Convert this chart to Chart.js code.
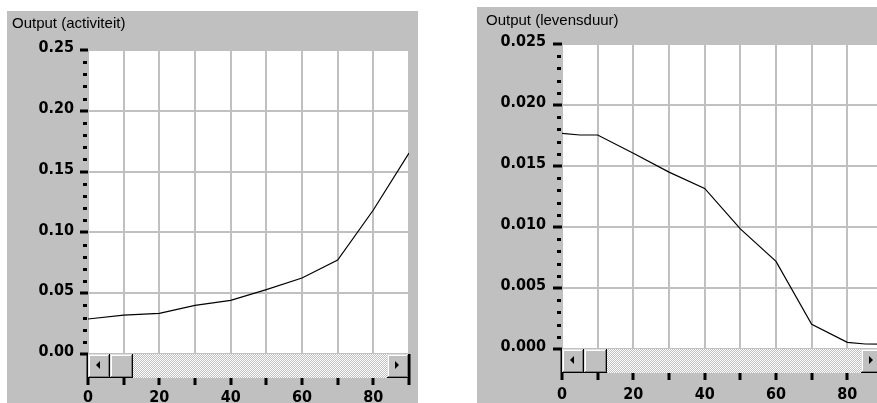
<!DOCTYPE html>
<html>
<head>
<meta charset="utf-8">
<script src="https://cdn.jsdelivr.net/npm/chart.js@4/dist/chart.umd.min.js"></script>
<style>
  html, body { margin: 0; padding: 0; background: #ffffff; overflow: hidden; width: 877px; height: 403px; }
  .panel { position: absolute; }
  #panelActivity { left: 7px; top: 11px; }
  #panelLife { left: 477px; top: 7px; }
</style>
</head>
<body>
<div class="panel" id="panelActivity"><canvas id="chartActivity" width="411" height="400"></canvas></div>
<div class="panel" id="panelLife"><canvas id="chartLife" width="420" height="400"></canvas></div>
<script>
// Output (activiteit)
const activityX = [0, 10, 20, 30, 40, 50, 60, 70, 80, 90];
const activityY = [0.0288, 0.0320, 0.0334, 0.0400, 0.0441, 0.0530, 0.0625, 0.0773, 0.1184, 0.1653];

// Output (levensduur)
const lifeX = [0, 5, 10, 20, 30, 40, 50, 60, 70, 80, 85, 90];
const lifeY = [0.01768, 0.01754, 0.01754, 0.01604, 0.01450, 0.01316, 0.00984, 0.00718, 0.00203, 0.00055, 0.00041, 0.00040];

// Axis ranges and tick steps
const xRange = [0, 90];
const xTickStep = 10;
const xLabelStep = 20;
const activityRange = [0, 0.25];
const activityStep = 0.05;
const lifeRange = [0, 0.025];
const lifeStep = 0.005;

const PANEL_GREY = '#c0c0c0';
const GRID_GREY = '#c0c0c0';
const tickFont = { family: "'DejaVu Sans Condensed', 'DejaVu Sans', sans-serif", size: 16, weight: 'bold' };
const titleFont = { family: "'Liberation Sans', Arial, sans-serif", size: 15, weight: 'normal' };

// dithered scroll-track fill
const ditherCanvas = document.createElement('canvas');
ditherCanvas.width = 2; ditherCanvas.height = 2;
(function () {
  const d = ditherCanvas.getContext('2d');
  d.fillStyle = PANEL_GREY; d.fillRect(0, 0, 2, 2);
  d.fillStyle = '#ffffff'; d.fillRect(0, 0, 1, 1); d.fillRect(1, 1, 1, 1);
})();

function raisedBox(ctx, x, y, w, h) {
  ctx.fillStyle = PANEL_GREY; ctx.fillRect(x, y, w, h);
  ctx.fillStyle = '#000000'; ctx.fillRect(x, y + h - 1, w, 1); ctx.fillRect(x + w - 1, y, 1, h);
  ctx.fillStyle = '#808080'; ctx.fillRect(x + 1, y + h - 2, w - 2, 1); ctx.fillRect(x + w - 2, y + 1, 1, h - 2);
  ctx.fillStyle = '#dfdfdf'; ctx.fillRect(x, y, w - 1, 1); ctx.fillRect(x, y, 1, h - 1);
  ctx.fillStyle = '#ffffff'; ctx.fillRect(x + 1, y + 1, w - 3, 1); ctx.fillRect(x + 1, y + 1, 1, h - 3);
}

function arrow(ctx, cx, cy, dir) {
  ctx.fillStyle = '#000000';
  ctx.beginPath();
  ctx.moveTo(cx - 2 * dir, cy);
  ctx.lineTo(cx + 2 * dir, cy - 4);
  ctx.lineTo(cx + 2 * dir, cy + 4);
  ctx.closePath();
  ctx.fill();
}

function scrollbar(ctx, x, y, w, h) {
  const btn = 22;
  ctx.fillStyle = ctx.createPattern(ditherCanvas, 'repeat');
  ctx.fillRect(x, y, w, h);
  raisedBox(ctx, x, y, btn, h);
  arrow(ctx, x + btn / 2 - 1, y + h / 2 - 1, 1);
  raisedBox(ctx, x + btn, y, btn + 1, h);
  raisedBox(ctx, x + w - btn, y, btn, h);
  arrow(ctx, x + w - btn / 2 - 1, y + h / 2 - 1, -1);
}

const panelPlugin = {
  id: 'panel',
  beforeDraw(chart) {
    const { ctx, chartArea: a, width, height } = chart;
    ctx.save();
    ctx.fillStyle = PANEL_GREY;
    ctx.fillRect(0, 0, width, height);
    ctx.fillStyle = '#ffffff';
    ctx.fillRect(a.left, a.top, a.right - a.left, a.bottom - a.top);
    ctx.restore();
  },
  afterDraw(chart, args, opts) {
    const { ctx, chartArea: a } = chart;
    const y = chart.scales.y;
    ctx.save();
    // minor ticks on the value axis, four between each labelled tick
    const minor = opts.majorStep / 5;
    const n = Math.round((y.max - y.min) / minor);
    ctx.fillStyle = '#000000';
    for (let i = 0; i <= n; i++) {
      if (i % 5 === 0) continue;
      const py = Math.round(y.getPixelForValue(y.min + i * minor));
      ctx.fillRect(a.left - 5, py - 1, 4, 3);
    }
    scrollbar(ctx, a.left, a.bottom, a.right - a.left, 24);
    ctx.restore();
  }
};

function makeChart(id, title, xs, ys, range, step, digits, cfg) {
  return new Chart(document.getElementById(id), {
    type: 'line',
    data: {
      datasets: [{
        data: xs.map((x, i) => ({ x: x, y: ys[i] })),
        borderColor: '#000000',
        borderWidth: 1.2,
        pointRadius: 0,
        tension: 0,
        fill: false
      }]
    },
    options: {
      responsive: false,
      animation: false,
      devicePixelRatio: 1,
      layout: { padding: { left: cfg.padLeft, right: cfg.padRight, top: 0, bottom: 0 } },
      plugins: {
        legend: { display: false },
        tooltip: { enabled: false },
        title: {
          display: true, text: title, align: 'start', color: '#000000',
          font: titleFont, padding: { top: cfg.titleTop, bottom: cfg.titleBottom }
        },
        panel: { majorStep: step }
      },
      scales: {
        x: {
          type: 'linear', min: xRange[0], max: xRange[1],
          ticks: {
            stepSize: xTickStep, autoSkip: false, maxRotation: 0, color: '#000000', font: tickFont, padding: cfg.xPad,
            callback: v => (v % xLabelStep === 0 ? String(v) : '')
          },
          grid: { color: GRID_GREY, lineWidth: 2, tickColor: '#000000', tickWidth: 3, tickLength: 31 },
          border: { display: false },
          afterFit(s) { s.height = cfg.xHeight; }
        },
        y: {
          min: range[0], max: range[1],
          ticks: {
            stepSize: step, color: '#000000', font: tickFont, padding: cfg.yPad, labelOffset: -2,
            callback: v => Number(v).toFixed(digits)
          },
          grid: { color: GRID_GREY, lineWidth: 2, tickColor: '#000000', tickWidth: 3, tickLength: cfg.yTick },
          border: { display: false },
          afterFit(s) { s.width = cfg.yWidth; }
        }
      }
    },
    plugins: [panelPlugin]
  });
}

makeChart('chartActivity', 'Output (activiteit)', activityX, activityY, activityRange, activityStep, 2,
  { padLeft: 5, padRight: 9, titleTop: 4, titleBottom: 17, xHeight: 57, yWidth: 76, yPad: 6, yTick: 8, xPad: 3 });

makeChart('chartLife', 'Output (levensduur)', lifeX, lifeY, lifeRange, lifeStep, 3,
  { padLeft: 9, padRight: 14, titleTop: 5, titleBottom: 14, xHeight: 58, yWidth: 76, yPad: 7, yTick: 9, xPad: 5 });
</script>
</body>
</html>
